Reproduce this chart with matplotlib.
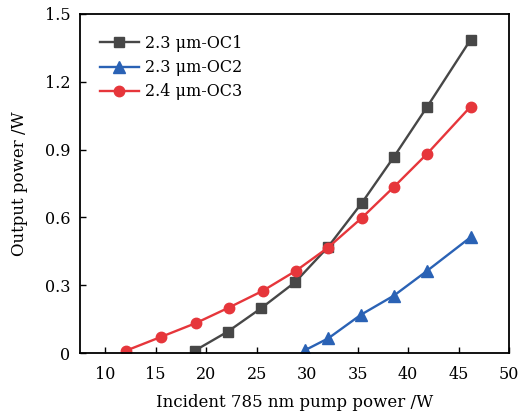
import matplotlib
matplotlib.use("Agg")
import matplotlib.pyplot as plt

plt.rcParams['font.family'] = ['DejaVu Serif']
plt.rcParams['mathtext.fontset'] = 'dejavuserif'

x_oc1 = [18.86, 22.15, 25.44, 28.83, 32.03, 35.42, 38.6, 41.9, 46.19]
y_oc1 = [0.01, 0.095, 0.198, 0.314, 0.467, 0.664, 0.868, 1.09, 1.386]

x_oc2 = [29.82, 32.1, 35.32, 38.6, 41.9, 46.19]
y_oc2 = [0.013, 0.065, 0.169, 0.254, 0.364, 0.512]

x_oc3 = [12.04, 15.57, 18.96, 22.25, 25.6, 28.9, 32.03, 35.42, 38.6, 41.9, 46.19]
y_oc3 = [0.01, 0.072, 0.132, 0.201, 0.275, 0.364, 0.465, 0.598, 0.735, 0.882, 1.09]

labels = ["2.3 μm-OC1", "2.3 μm-OC2", "2.4 μm-OC3"]
x_ticks = [10, 15, 20, 25, 30, 35, 40, 45, 50]
y_ticks = [0, 0.3, 0.6, 0.9, 1.2, 1.5]
y_ticklabels = ["0", "0.3", "0.6", "0.9", "1.2", "1.5"]

fig = plt.figure(figsize=(5.3, 4.15), dpi=100)
ax = fig.add_axes([80/530, 1-353/415, (509-80)/530, (353-14)/415])

ax.plot(x_oc1, y_oc1, color='#474747', marker='s', markersize=7, linewidth=1.7, label=labels[0])
ax.plot(x_oc2, y_oc2, color='#2a62b5', marker='^', markersize=8, linewidth=1.7, label=labels[1])
ax.plot(x_oc3, y_oc3, color='#e6363b', marker='o', markersize=7.5, linewidth=1.7, label=labels[2])

ax.set_xlim(7.5, 50)
ax.set_ylim(0, 1.5)
ax.set_xticks(x_ticks)
ax.set_yticks(y_ticks)
ax.set_yticklabels(y_ticklabels)
ax.tick_params(direction='in', length=4, width=1, labelsize=11.5)
ax.tick_params(axis='x', pad=9)
ax.tick_params(axis='y', pad=7)
for s in ax.spines.values():
    s.set_linewidth(1.3)
ax.set_xlabel("Incident 785 nm pump power /W", fontsize=12, labelpad=8)
ax.set_ylabel("Output power /W", fontsize=12, labelpad=12)

ax.legend(loc='upper left', frameon=False, fontsize=11.5, handlelength=2.4,
          handletextpad=0.4, labelspacing=0.45, borderaxespad=0.6,
          bbox_to_anchor=(0.01, 0.985))

fig.savefig("out.png", dpi=100)
